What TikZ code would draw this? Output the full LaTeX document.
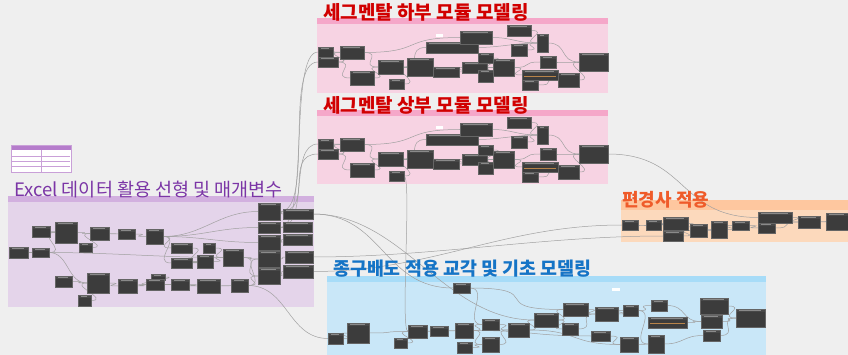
\documentclass[tikz,border=0pt]{standalone}
\usepackage{fontspec}
\newfontfamily\kr{Noto Sans CJK KR}
\definecolor{bg}{HTML}{EFEFEF}
\definecolor{pbody}{HTML}{E4D4EA}
\definecolor{phead}{HTML}{D2B0DF}
\definecolor{ptitle}{HTML}{7B35A6}
\definecolor{kbody}{HTML}{F7D3E3}
\definecolor{khead}{HTML}{F5A7C9}
\definecolor{ktitle}{HTML}{D10000}
\definecolor{obody}{HTML}{FCD9BC}
\definecolor{ohead}{HTML}{FEC79F}
\definecolor{otitle}{HTML}{EF5B2A}
\definecolor{bbody}{HTML}{C9E7F8}
\definecolor{bhead}{HTML}{A7DCF8}
\definecolor{btitle}{HTML}{1574C6}
\definecolor{nodefill}{HTML}{3C3C3C}
\definecolor{nodeedge}{HTML}{656565}
\definecolor{nodehead}{HTML}{484848}
\definecolor{nodetxt}{HTML}{8A8A8A}
\definecolor{port}{HTML}{3FA9E0}
\definecolor{wirec}{HTML}{A0A0A0}
\definecolor{deschead}{HTML}{B57CCB}
\definecolor{descedge}{HTML}{C9A0D8}
\definecolor{codetxt}{HTML}{B8844A}
\pgfdeclarelayer{grp}
\pgfdeclarelayer{wires}
\pgfsetlayers{grp,wires,main}
\tikzset{
  dyn/.style={draw=nodeedge, fill=nodefill, line width=0.4pt, inner sep=0pt, outer sep=0pt, rectangle,
    path picture={\fill[nodehead] (path picture bounding box.north west) rectangle ([yshift=-2.8pt]path picture bounding box.north east);
      \draw[nodetxt, line width=0.3pt] ([xshift=2.5pt,yshift=-1.4pt]path picture bounding box.north west) -- ([xshift=-4pt,yshift=-1.4pt]path picture bounding box.north east);
      \fill[port] ([yshift=-4pt]path picture bounding box.north west) rectangle ([xshift=1pt,yshift=-7pt]path picture bounding box.north west);}},
  wire/.style={draw=wirec, line width=0.5pt},
  grptitle/.style={anchor=west, inner sep=0pt, font=\kr\bfseries\fontsize{19}{19}\selectfont}
}
\newcommand\nd[5]{\node[dyn, minimum width={((#4)-(#2))*1pt}, minimum height={((#5)-(#3))*1pt}] (#1) at ({((#2)+(#4))/2},{((#3)+(#5))/2}) {};}
\newcommand\wire[3][20]{\begin{pgfonlayer}{wires}\draw[wire] (#2.east) .. controls +(#1,0) and +(-#1,0) .. (#3.west);\end{pgfonlayer}}
\newcommand\pinkset[1]{%
\nd{#1a}{318}{47}{333}{57}
\nd{#1b}{318}{57}{338}{67}
\nd{#1c}{340}{46}{364}{59}
\nd{#1d}{350}{71}{374}{85}
\nd{#1e}{378}{60}{403}{74}
\nd{#1f}{389}{79}{404}{89}
\nd{#1g}{407}{58}{433}{76}
\nd{#1h}{426}{42}{478}{53}
\nd{#1i}{433}{67}{459}{77}
\nd{#1j}{460}{31}{492}{44}
\nd{#1k}{462}{62}{487}{73}
\nd{#1l}{478}{53}{493}{63}
\nd{#1m}{478}{70}{493}{82}
\nd{#1n}{493}{59}{514}{76}
\nd{#1o}{507}{25}{531}{36}
\nd{#1p}{511}{44}{527}{56}
\nd{#1q}{537}{34}{548}{52}
\nd{#1r}{540}{56}{556}{68}
\nd{#1s}{522}{70}{558}{80}
\nd{#1t}{522}{80}{538}{90}
\nd{#1u}{558}{73}{579}{87}
\nd{#1v}{579}{53}{608}{71}
\fill[white] (436,34) rectangle (443,37);
\draw[codetxt, line width=0.4pt] (524,76) -- (556,76);
\wire{#1a}{#1c}\wire{#1b}{#1c}\wire{#1b}{#1d}\wire{#1c}{#1e}\wire{#1d}{#1e}
\wire[60]{#1c}{#1j}\wire{#1e}{#1g}\wire{#1f}{#1g}\wire{#1g}{#1i}\wire{#1i}{#1k}
\wire{#1e}{#1h}\wire{#1h}{#1q}\wire{#1j}{#1q}\wire{#1k}{#1n}\wire{#1l}{#1n}\wire{#1m}{#1n}
\wire{#1o}{#1q}\wire{#1p}{#1q}\wire{#1n}{#1r}\wire{#1q}{#1v}\wire{#1r}{#1v}
\wire{#1s}{#1u}\wire{#1t}{#1u}\wire{#1u}{#1v}\wire{#1n}{#1s}%
}
\begin{document}
\begin{tikzpicture}[x=1pt, y=-1pt]
\useasboundingbox (0,0) rectangle (848,355);
\begin{pgfonlayer}{grp}
\fill[bg] (0,0) rectangle (848,355);
% description box
\fill[white] (11,145) rectangle (71,172);
\fill[deschead] (11,145) rectangle (71,150);
\draw[descedge, line width=0.5pt] (11,145) rectangle (71,172);
\draw[descedge, line width=0.3pt] (41,150) -- (41,172) (12,156) -- (70,156) (12,161) -- (70,161) (12,166) -- (70,166);
% groups
\fill[pbody] (8,196) rectangle (314,307);
\fill[phead] (8,196) rectangle (314,202);
\fill[kbody] (317,18) rectangle (608,93);
\fill[khead] (317,18) rectangle (608,24);
\fill[kbody] (317,110) rectangle (608,184);
\fill[khead] (317,110) rectangle (608,116);
\fill[obody] (621,200) rectangle (848,242);
\fill[ohead] (621,200) rectangle (848,210);
\fill[bbody] (327,276) rectangle (766,355);
\fill[bhead] (327,276) rectangle (766,282);
\end{pgfonlayer}
% purple group nodes
\nd{e1}{9}{247}{28}{258}
\nd{e2}{32}{226}{50}{237}
\nd{e3}{32}{248}{49}{257}
\nd{e4}{55}{222}{77}{243}
\nd{e5}{79}{243}{92}{252}
\nd{e6}{90}{227}{109}{240}
\nd{e7}{118}{229}{135}{239}
\nd{e8}{146}{229}{163}{244}
\nd{e9}{171}{243}{192}{253}
\nd{e10}{171}{258}{192}{268}
\nd{e11}{197}{255}{213}{268}
\nd{e12}{203}{243}{215}{253}
\nd{e13}{223}{249}{243}{266}
\nd{e14}{258}{203}{280}{220}
\nd{e15}{258}{222}{280}{233}
\nd{e16}{258}{235}{280}{250}
\nd{e17}{258}{251}{280}{267}
\nd{e18}{258}{268}{280}{284}
\nd{e19}{283}{209}{313}{219}
\nd{e20}{283}{222}{312}{232}
\nd{e21}{283}{234}{312}{245}
\nd{e22}{285}{251}{313}{263}
\nd{e23}{283}{265}{313}{278}
\nd{e24}{55}{276}{72}{287}
\nd{e25}{87}{273}{109}{293}
\nd{e26}{78}{295}{91}{306}
\nd{e27}{151}{274}{165}{280}
\nd{e28}{118}{279}{137}{293}
\nd{e29}{146}{279}{164}{290}
\nd{e30}{171}{279}{189}{290}
\nd{e31}{197}{279}{220}{293}
\nd{e32}{231}{279}{248}{292}
\wire{e1}{e3}\wire{e2}{e4}\wire{e3}{e4}\wire[60]{e3}{e13}\wire{e3}{e25}
\wire{e4}{e6}\wire{e5}{e6}\wire{e6}{e7}\wire{e7}{e8}
\wire[40]{e8}{e14}\wire[40]{e8}{e15}\wire[40]{e8}{e16}\wire{e8}{e9}\wire{e8}{e10}
\wire{e9}{e11}\wire{e10}{e11}\wire{e11}{e13}\wire{e12}{e13}
\wire{e13}{e17}\wire{e13}{e18}
\wire[6]{e14}{e19}\wire[6]{e15}{e20}\wire[6]{e16}{e21}\wire[6]{e17}{e22}\wire[6]{e18}{e23}
\wire{e24}{e25}\wire{e26}{e25}\wire{e25}{e28}\wire{e28}{e29}\wire{e27}{e29}
\wire{e29}{e30}\wire{e30}{e31}\wire{e31}{e32}\wire{e32}{e18}\wire{e32}{e17}
% pink groups
\pinkset{p1}
\begin{scope}[shift={(0,92)}]
\pinkset{p2}
\end{scope}
% orange group
\nd{o1}{622}{220}{638}{230}
\nd{o2}{646}{220}{661}{230}
\nd{o3}{663}{217}{688}{230}
\nd{o4}{663}{231}{683}{241}
\nd{o5}{690}{224}{707}{237}
\nd{o6}{711}{221}{727}{238}
\nd{o7}{732}{221}{749}{230}
\nd{o8}{758}{212}{792}{223}
\nd{o9}{758}{223}{775}{233}
\nd{o10}{798}{216}{820}{228}
\nd{o11}{826}{213}{848}{230}
\wire{o1}{o2}\wire{o2}{o3}\wire{o3}{o5}\wire{o4}{o5}\wire{o5}{o6}\wire{o6}{o7}
\wire{o7}{o9}\wire{o8}{o10}\wire{o9}{o10}\wire{o10}{o11}
% blue group
\nd{b1}{328}{333}{343}{344}
\nd{b2}{347}{323}{369}{343}
\nd{b3}{394}{338}{407}{348}
\nd{b4}{408}{325}{427}{338}
\nd{b5}{430}{326}{448}{336}
\nd{b6}{455}{323}{473}{338}
\nd{b7}{453}{283}{470}{293}
\nd{b8}{457}{342}{472}{353}
\nd{b9}{482}{319}{499}{330}
\nd{b10}{482}{337}{499}{352}
\nd{b11}{508}{323}{529}{337}
\nd{b12}{534}{313}{558}{327}
\nd{b13}{563}{303}{588}{316}
\nd{b14}{562}{323}{578}{335}
\nd{b15}{591}{331}{610}{341}
\nd{b16}{595}{307}{618}{321}
\nd{b17}{620}{337}{638}{352}
\nd{b18}{623}{305}{638}{316}
\nd{b19}{648}{317}{687}{328}
\nd{b20}{651}{300}{667}{311}
\nd{b21}{648}{335}{664}{353}
\nd{b22}{700}{298}{728}{314}
\nd{b23}{701}{315}{722}{328}
\nd{b24}{703}{330}{720}{341}
\nd{b25}{736}{309}{765}{327}
\draw[codetxt, line width=0.4pt] (650,323) -- (685,323);
\fill[white] (612,288) rectangle (620,291);
\wire{b1}{b2}\wire[30]{b2}{b4}\wire{b3}{b4}\wire{b4}{b5}\wire{b5}{b6}
\wire{b6}{b9}\wire{b6}{b10}\wire{b8}{b10}\wire{b9}{b11}\wire{b10}{b11}
\wire{b7}{b9}\wire[80]{b7}{b13}\wire{b11}{b12}\wire{b12}{b13}\wire[50]{b11}{b17}
\wire{b12}{b14}\wire{b14}{b16}\wire{b13}{b16}\wire{b15}{b17}\wire{b16}{b18}
\wire{b18}{b20}\wire{b18}{b21}\wire{b17}{b21}\wire{b19}{b23}\wire{b20}{b23}
\wire{b21}{b24}\wire{b22}{b25}\wire{b23}{b25}\wire{b24}{b25}\wire[60]{b6}{b15}
% cross-group wires
\wire[35]{e14}{p1b}\wire[35]{e14}{p2b}\wire[30]{e15}{p1a}\wire[30]{e15}{p2a}
\wire[70]{e19}{b7}\wire[90]{e19}{b12}
\wire[120]{e23}{o1}\wire[120]{e22}{o4}
\wire[40]{e32}{b1}
\wire[8]{p2f}{b4}
\wire[80]{p2v}{o8}
% titles
\node[grptitle, font=\kr\fontsize{18.5}{18.5}\selectfont, text=ptitle] (t1) at (14,190) {Excel 데이터 활용 선형 및 매개변수};
\node[grptitle, text=ktitle] (t2) at (323,12) {세그멘탈 하부 모듈 모델링};
\node[grptitle, text=ktitle] (t3) at (323,105) {세그멘탈 상부 모듈 모델링};
\node[grptitle, font=\kr\bfseries\fontsize{18}{18}\selectfont, text=otitle] (t4) at (622,200) {편경사 적용};
\node[grptitle, font=\kr\bfseries\fontsize{18.4}{18.4}\selectfont, text=btitle] (t5) at (333,269) {종구배도 적용 교각 및 기초 모델링};
\end{tikzpicture}
\end{document}
